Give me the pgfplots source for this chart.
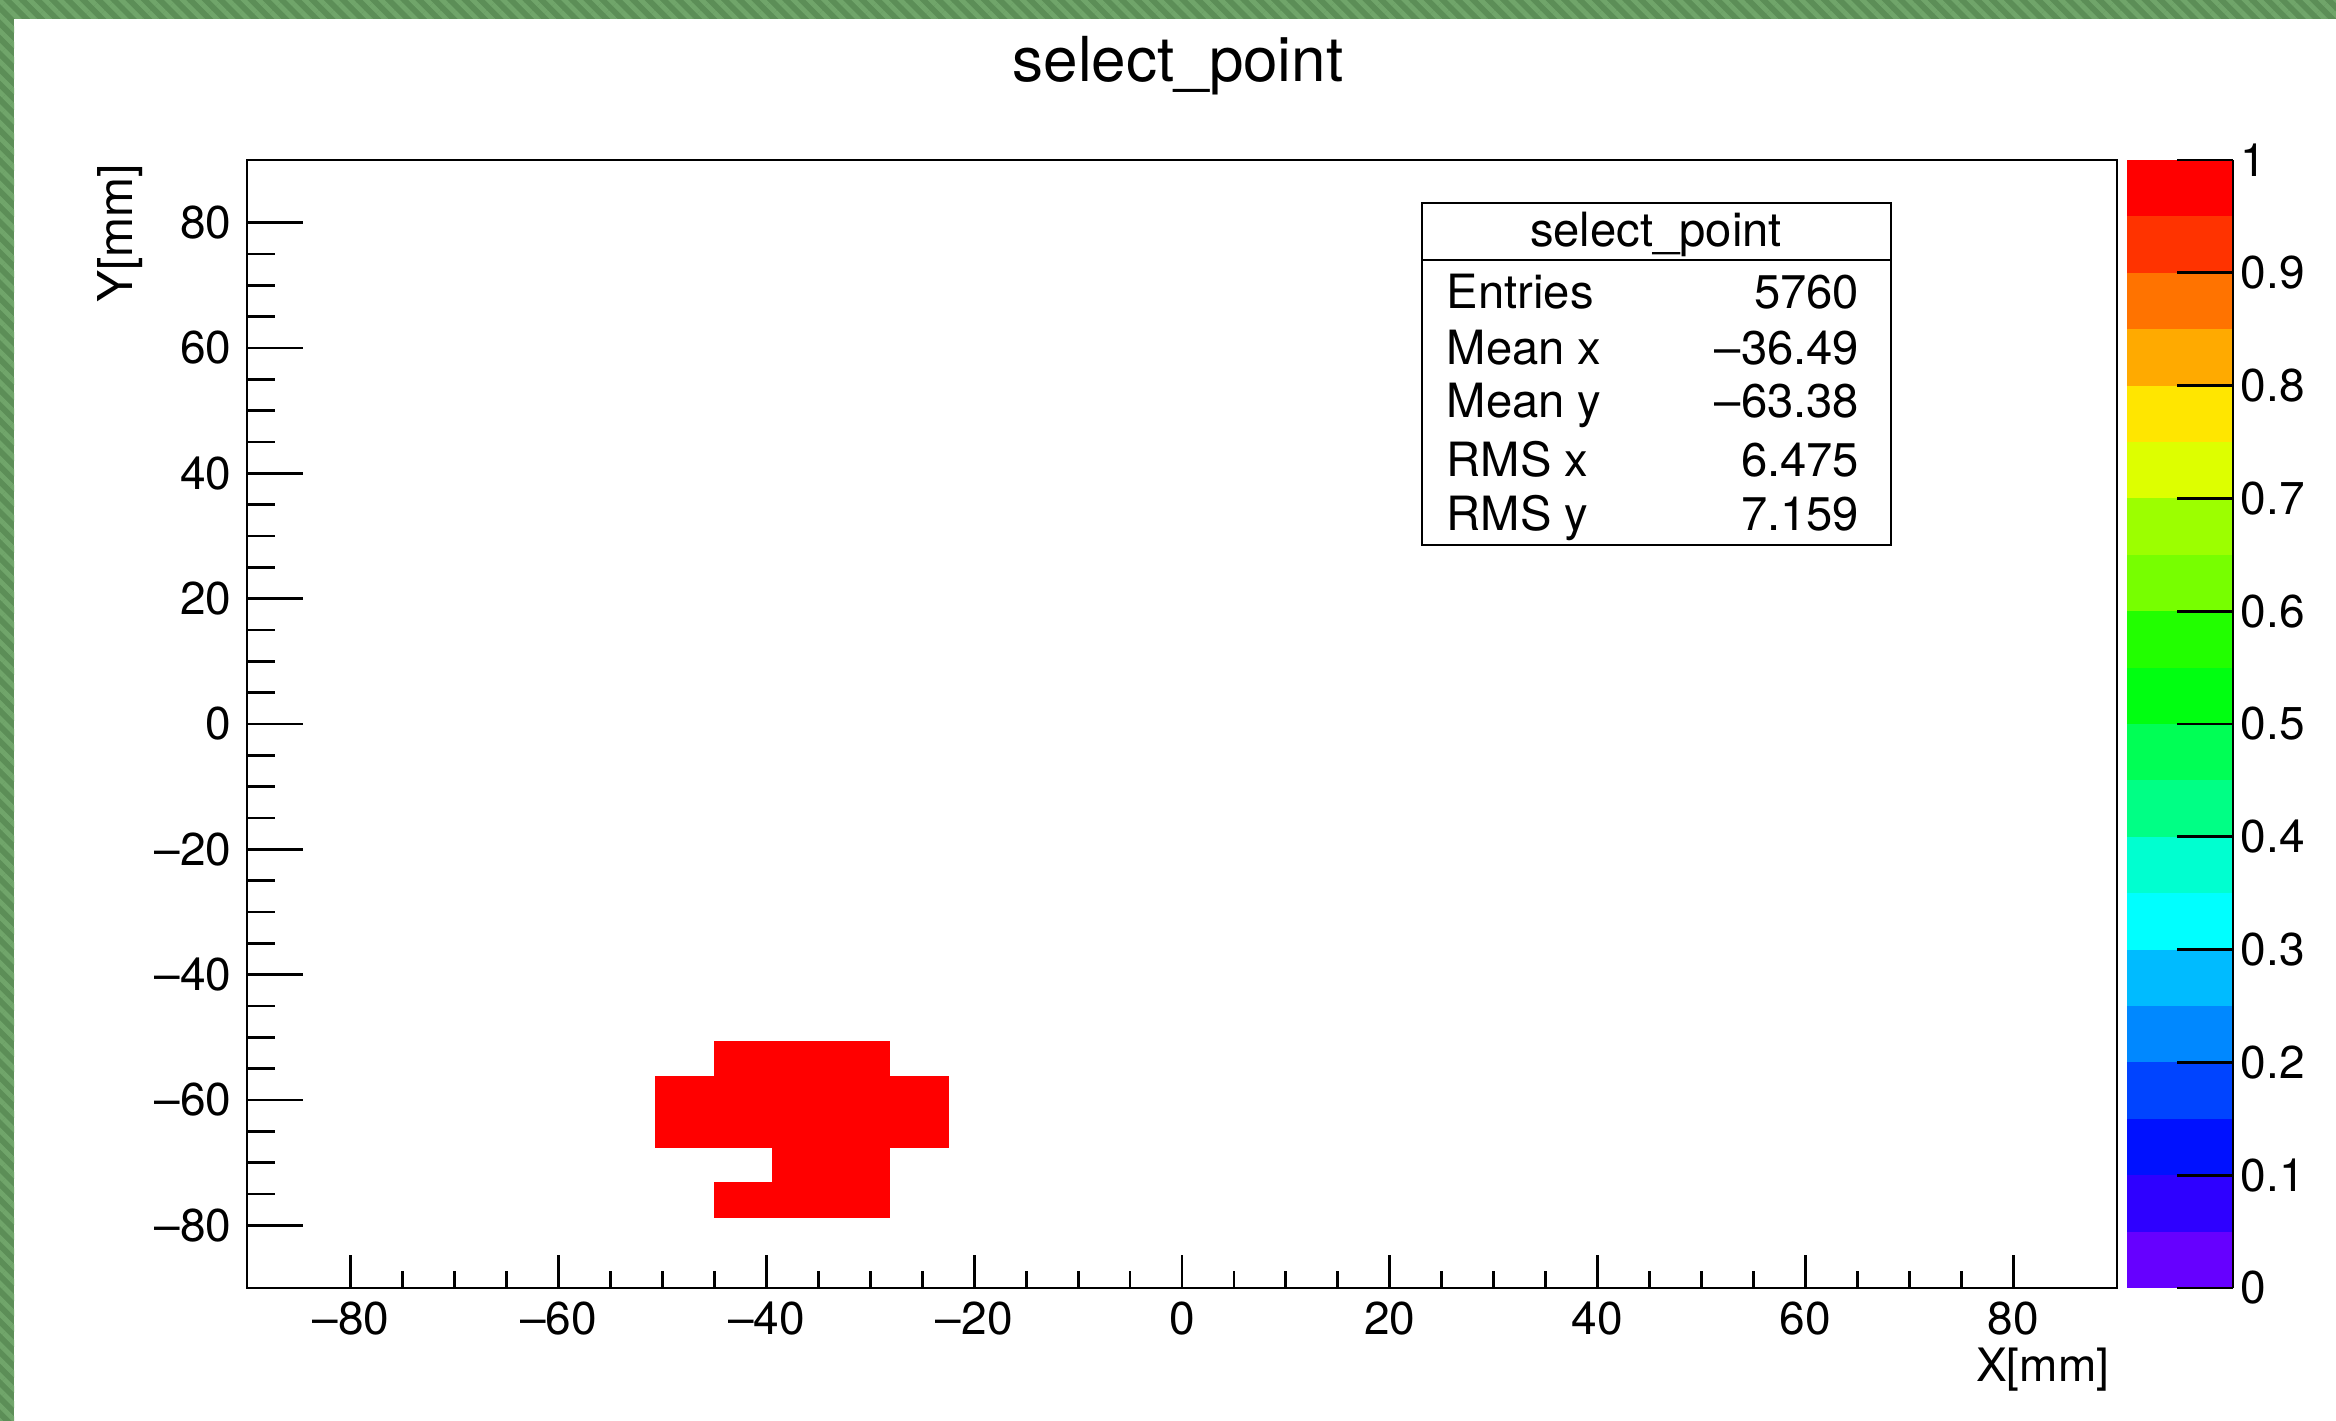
\documentclass[border=0pt]{standalone}
\usepackage{pgfplots}
\pgfplotsset{compat=1.18}
\usepackage{fontspec}
\setmainfont{TeX Gyre Heros}
\usetikzlibrary{patterns.meta}

\definecolor{gdark}{HTML}{5C8E57}
\definecolor{glight}{HTML}{70A56A}
\definecolor{cb1}{HTML}{6600FF}
\definecolor{cb2}{HTML}{2E00FF}
\definecolor{cb3}{HTML}{0011FF}
\definecolor{cb4}{HTML}{0044FF}
\definecolor{cb5}{HTML}{0088FF}
\definecolor{cb6}{HTML}{00BBFF}
\definecolor{cb7}{HTML}{00FFFF}
\definecolor{cb8}{HTML}{00FFD0}
\definecolor{cb9}{HTML}{00FF85}
\definecolor{cb10}{HTML}{00FF55}
\definecolor{cb11}{HTML}{00FF11}
\definecolor{cb12}{HTML}{22FF00}
\definecolor{cb13}{HTML}{77FF00}
\definecolor{cb14}{HTML}{9CFF00}
\definecolor{cb15}{HTML}{DDFF00}
\definecolor{cb16}{HTML}{FFE600}
\definecolor{cb17}{HTML}{FFAA00}
\definecolor{cb18}{HTML}{FF7300}
\definecolor{cb19}{HTML}{FF3300}
\definecolor{cb20}{HTML}{FF0000}

\newcommand{\tickfont}{\fontsize{11.5}{13}\selectfont}
\newcommand{\statfont}{\fontsize{11.8}{14}\selectfont}

% filled cells of the 2D histogram (bin centres, content)
\pgfplotstableread{
x y z
-42.1875 -53.4375 1
-36.5625 -53.4375 1
-30.9375 -53.4375 1
-47.8125 -59.0625 1
-42.1875 -59.0625 1
-36.5625 -59.0625 1
-30.9375 -59.0625 1
-25.3125 -59.0625 1
-47.8125 -64.6875 1
-42.1875 -64.6875 1
-36.5625 -64.6875 1
-30.9375 -64.6875 1
-25.3125 -64.6875 1
-36.5625 -70.3125 1
-30.9375 -70.3125 1
-42.1875 -75.9375 1
-36.5625 -75.9375 1
-30.9375 -75.9375 1
}\cells

\begin{document}
\begin{tikzpicture}
\useasboundingbox (0pt,0pt) rectangle (584pt,355.25pt);
\fill[white] (0pt,0pt) rectangle (584pt,355.25pt);
% green frame
\fill[gdark] (0pt,350.5pt) rectangle (584pt,355.25pt);
\fill[gdark] (0pt,0pt) rectangle (3.5pt,355.25pt);
\fill[pattern={Lines[angle=-45,distance=2.7pt,line width=1.2pt]}, pattern color=glight] (0pt,350.5pt) rectangle (584pt,355.25pt);
\fill[pattern={Lines[angle=-45,distance=2.7pt,line width=1.2pt]}, pattern color=glight] (0pt,0pt) rectangle (3.5pt,350.5pt);

\begin{axis}[
  at={(61.75pt,33.25pt)}, anchor=south west,
  scale only axis, width=467.5pt, height=282pt,
  xmin=-90, xmax=90, ymin=-90, ymax=90,
  axis line style={line width=0.7pt},
  every tick/.style={black, line width=0.7pt},
  tick align=inside, tick pos=left,
  xtick={-80,-60,-40,-20,0,20,40,60,80},
  ytick={-80,-60,-40,-20,0,20,40,60,80},
  xticklabels={\textendash80,\textendash60,\textendash40,\textendash20,0,20,40,60,80},
  yticklabels={\textendash80,\textendash60,\textendash40,\textendash20,0,20,40,60,80},
  minor x tick num=3, minor y tick num=3,
  major x tick style={/pgfplots/major tick length=8.25pt},
  minor x tick style={/pgfplots/minor tick length=4.25pt},
  major y tick style={/pgfplots/major tick length=14pt},
  minor y tick style={/pgfplots/minor tick length=7pt},
  xticklabel style={font=\tickfont, inner sep=0pt, anchor=north, yshift=-3.25pt},
  yticklabel style={font=\tickfont, inner sep=0pt, anchor=east, xshift=-3.75pt},
  xlabel={X[mm]}, ylabel={Y[mm]},
  xlabel style={font=\tickfont, inner sep=0pt, at={(axis description cs:1,0)}, anchor=base east, xshift=-1.75pt, yshift=-23.5pt},
  ylabel style={font=\fontsize{12}{14}\selectfont, inner sep=0pt, at={(axis description cs:0,1)}, anchor=base east, yshift=28.75pt, xshift=-0.75pt},
  clip=true,
]
\addplot[only marks, mark=square*, mark size=4.45pt,
  mark options={xscale=1.65, fill=red, draw=red, line width=0pt}]
  table[x=x, y=y] {\cells};
\end{axis}

% colour scale
\begin{axis}[
  at={(531.75pt,33.25pt)}, anchor=south west,
  scale only axis, width=26.5pt, height=282pt,
  xmin=0, xmax=1, ymin=0, ymax=1,
  axis on top,
  axis x line=none, axis y line*=right,
  axis line style={line width=0.7pt},
  every tick/.style={black, line width=0.7pt},
  tick align=inside, major tick length=14pt,
  xtick=\empty,
  ytick={0,0.1,0.2,0.3,0.4,0.5,0.6,0.7,0.8,0.9,1},
  yticklabels={0,0.1,0.2,0.3,0.4,0.5,0.6,0.7,0.8,0.9,1},
  yticklabel style={font=\tickfont, inner sep=0pt, anchor=west, xshift=1.75pt},
  clip=false,
]
\addplot[draw=none, fill=cb1] coordinates {(0,0) (1,0) (1,0.05) (0,0.05)} -- cycle;
\addplot[draw=none, fill=cb2] coordinates {(0,0.05) (1,0.05) (1,0.1) (0,0.1)} -- cycle;
\addplot[draw=none, fill=cb3] coordinates {(0,0.1) (1,0.1) (1,0.15) (0,0.15)} -- cycle;
\addplot[draw=none, fill=cb4] coordinates {(0,0.15) (1,0.15) (1,0.2) (0,0.2)} -- cycle;
\addplot[draw=none, fill=cb5] coordinates {(0,0.2) (1,0.2) (1,0.25) (0,0.25)} -- cycle;
\addplot[draw=none, fill=cb6] coordinates {(0,0.25) (1,0.25) (1,0.3) (0,0.3)} -- cycle;
\addplot[draw=none, fill=cb7] coordinates {(0,0.3) (1,0.3) (1,0.35) (0,0.35)} -- cycle;
\addplot[draw=none, fill=cb8] coordinates {(0,0.35) (1,0.35) (1,0.4) (0,0.4)} -- cycle;
\addplot[draw=none, fill=cb9] coordinates {(0,0.4) (1,0.4) (1,0.45) (0,0.45)} -- cycle;
\addplot[draw=none, fill=cb10] coordinates {(0,0.45) (1,0.45) (1,0.5) (0,0.5)} -- cycle;
\addplot[draw=none, fill=cb11] coordinates {(0,0.5) (1,0.5) (1,0.55) (0,0.55)} -- cycle;
\addplot[draw=none, fill=cb12] coordinates {(0,0.55) (1,0.55) (1,0.6) (0,0.6)} -- cycle;
\addplot[draw=none, fill=cb13] coordinates {(0,0.6) (1,0.6) (1,0.65) (0,0.65)} -- cycle;
\addplot[draw=none, fill=cb14] coordinates {(0,0.65) (1,0.65) (1,0.7) (0,0.7)} -- cycle;
\addplot[draw=none, fill=cb15] coordinates {(0,0.7) (1,0.7) (1,0.75) (0,0.75)} -- cycle;
\addplot[draw=none, fill=cb16] coordinates {(0,0.75) (1,0.75) (1,0.8) (0,0.8)} -- cycle;
\addplot[draw=none, fill=cb17] coordinates {(0,0.8) (1,0.8) (1,0.85) (0,0.85)} -- cycle;
\addplot[draw=none, fill=cb18] coordinates {(0,0.85) (1,0.85) (1,0.9) (0,0.9)} -- cycle;
\addplot[draw=none, fill=cb19] coordinates {(0,0.9) (1,0.9) (1,0.95) (0,0.95)} -- cycle;
\addplot[draw=none, fill=cb20] coordinates {(0,0.95) (1,0.95) (1,1) (0,1)} -- cycle;
\end{axis}

% title
\node[anchor=base, inner sep=0pt, font=\fontsize{15.5}{18}\selectfont] at (294.5pt,334.75pt) {select\_point};

% statistics box
\draw[line width=0.5pt, fill=white] (355.5pt,219pt) rectangle (472.75pt,304.5pt);
\draw[line width=0.5pt] (355.5pt,290.25pt) -- (472.75pt,290.25pt);
\node[anchor=base, inner sep=0pt, font=\statfont] at (414pt,293.5pt) {select\_point};
\node[anchor=base west, inner sep=0pt, font=\statfont] at (361.5pt,278pt) {Entries};
\node[anchor=base east, inner sep=0pt, font=\statfont] at (465pt,278pt) {5760};
\node[anchor=base west, inner sep=0pt, font=\statfont] at (361.5pt,264pt) {Mean x};
\node[anchor=base east, inner sep=0pt, font=\statfont] at (465pt,264pt) {\textendash36.49};
\node[anchor=base west, inner sep=0pt, font=\statfont] at (361.5pt,250.75pt) {Mean y};
\node[anchor=base east, inner sep=0pt, font=\statfont] at (465pt,250.75pt) {\textendash63.38};
\node[anchor=base west, inner sep=0pt, font=\statfont] at (361.5pt,236pt) {RMS x};
\node[anchor=base east, inner sep=0pt, font=\statfont] at (465pt,236pt) {6.475};
\node[anchor=base west, inner sep=0pt, font=\statfont] at (361.5pt,222.5pt) {RMS y};
\node[anchor=base east, inner sep=0pt, font=\statfont] at (465pt,222.5pt) {7.159};
\end{tikzpicture}
\end{document}
